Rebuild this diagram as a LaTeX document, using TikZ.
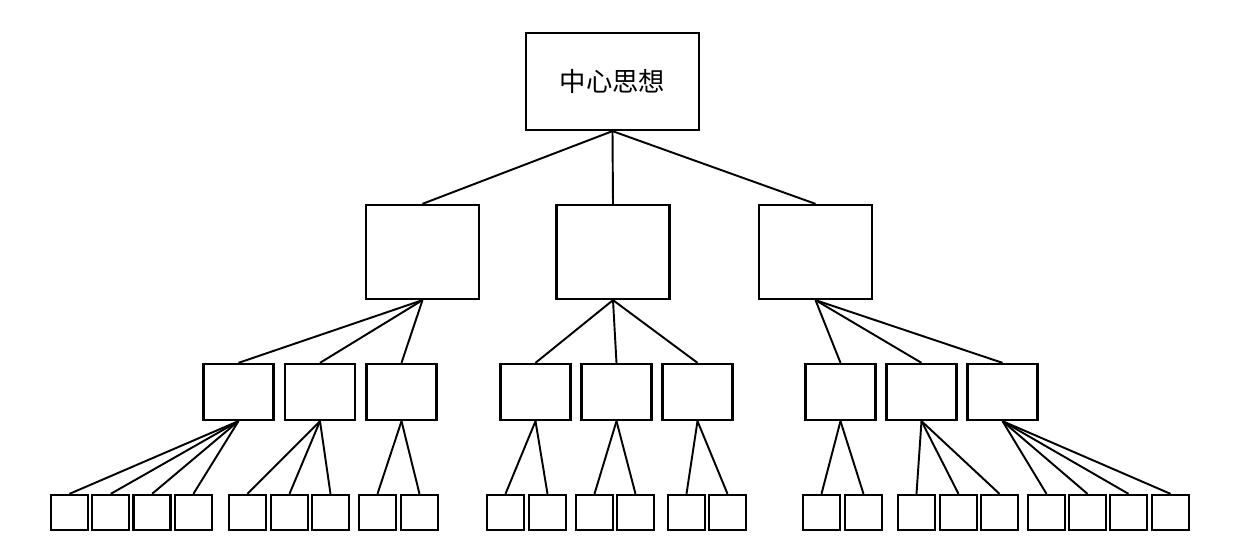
\documentclass[tikz,border=0pt]{standalone}
\usepackage{fontspec}
\newfontfamily\cjk{Noto Sans CJK SC}
\usetikzlibrary{positioning}

\begin{document}
\begin{tikzpicture}[
  root/.style={draw, line width=0.65pt, minimum width=17.3mm, minimum height=9.7mm, inner sep=0pt, font=\cjk\fontsize{7.5}{9}\selectfont},
  mid/.style={draw, line width=0.65pt, minimum width=11.3mm, minimum height=9.4mm, inner sep=0pt},
  sub/.style={draw, line width=0.65pt, minimum width=7mm, minimum height=5.6mm, inner sep=0pt},
  leaf/.style={draw, line width=0.65pt, minimum width=3.7mm, minimum height=3.5mm, inner sep=0pt},
  line width=0.55pt
]
\useasboundingbox (0,0) rectangle (12.46,5.49);

\node[root] (top) at (6.125,4.675) {中心思想};

\node[mid] (m1) at (4.225,2.97) {};
\node[mid] (m2) at (6.13,2.97)  {};
\node[mid] (m3) at (8.155,2.97) {};
\draw (top.south)--(m1.north); \draw (top.south)--(m2.north); \draw (top.south)--(m3.north);

\node[sub] (s1) at (2.385,1.57)  {};
\node[sub] (s2) at (3.20,1.57)   {};
\node[sub] (s3) at (4.015,1.57)  {};
\node[sub] (s4) at (5.355,1.57)  {};
\node[sub] (s5) at (6.165,1.57)  {};
\node[sub] (s6) at (6.975,1.57)  {};
\node[sub] (s7) at (8.405,1.57)  {};
\node[sub] (s8) at (9.215,1.57)  {};
\node[sub] (s9) at (10.025,1.57) {};
\draw (m1.south)--(s1.north); \draw (m1.south)--(s2.north); \draw (m1.south)--(s3.north);
\draw (m2.south)--(s4.north); \draw (m2.south)--(s5.north); \draw (m2.south)--(s6.north);
\draw (m3.south)--(s7.north); \draw (m3.south)--(s8.north); \draw (m3.south)--(s9.north);

\node[leaf] (a1) at (0.695,0.365) {}; \node[leaf] (a2) at (1.108,0.365) {};
\node[leaf] (a3) at (1.521,0.365) {}; \node[leaf] (a4) at (1.934,0.365) {};
\node[leaf] (b1) at (2.475,0.365) {}; \node[leaf] (b2) at (2.895,0.365) {};
\node[leaf] (b3) at (3.305,0.365) {};
\node[leaf] (c1) at (3.775,0.365) {}; \node[leaf] (c2) at (4.195,0.365) {};
\node[leaf] (d1) at (5.055,0.365) {}; \node[leaf] (d2) at (5.475,0.365) {};
\node[leaf] (e1) at (5.945,0.365) {}; \node[leaf] (e2) at (6.355,0.365) {};
\node[leaf] (f1) at (6.865,0.365) {}; \node[leaf] (f2) at (7.275,0.365) {};
\node[leaf] (g1) at (8.215,0.365) {}; \node[leaf] (g2) at (8.635,0.365) {};
\node[leaf] (h1) at (9.165,0.365) {}; \node[leaf] (h2) at (9.585,0.365) {};
\node[leaf] (h3) at (9.995,0.365) {};
\node[leaf] (i1) at (10.465,0.365) {}; \node[leaf] (i2) at (10.875,0.365) {};
\node[leaf] (i3) at (11.285,0.365) {}; \node[leaf] (i4) at (11.705,0.365) {};

\draw (s1.south)--(a1.north); \draw (s1.south)--(a2.north); \draw (s1.south)--(a3.north); \draw (s1.south)--(a4.north);
\draw (s2.south)--(b1.north); \draw (s2.south)--(b2.north); \draw (s2.south)--(b3.north);
\draw (s3.south)--(c1.north); \draw (s3.south)--(c2.north);
\draw (s4.south)--(d1.north); \draw (s4.south)--(d2.north);
\draw (s5.south)--(e1.north); \draw (s5.south)--(e2.north);
\draw (s6.south)--(f1.north); \draw (s6.south)--(f2.north);
\draw (s7.south)--(g1.north); \draw (s7.south)--(g2.north);
\draw (s8.south)--(h1.north); \draw (s8.south)--(h2.north); \draw (s8.south)--(h3.north);
\draw (s9.south)--(i1.north); \draw (s9.south)--(i2.north); \draw (s9.south)--(i3.north); \draw (s9.south)--(i4.north);
\end{tikzpicture}
\end{document}
